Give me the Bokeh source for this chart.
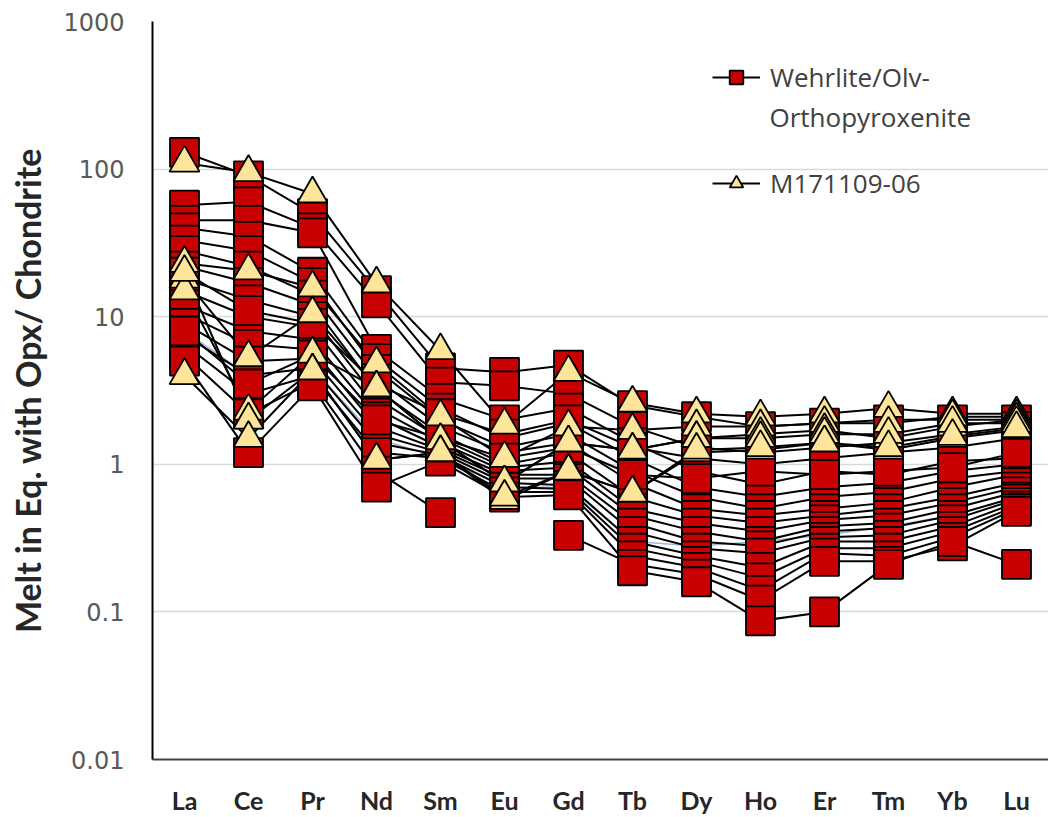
import math
from bokeh.plotting import figure
from bokeh.models import (Range1d, FactorRange, FixedTicker, Legend, LegendItem, Label)
from bokeh.embed import file_html
from bokeh.resources import INLINE

NaN = math.nan

elements = ["La", "Ce", "Pr", "Nd", "Sm", "Eu", "Gd", "Tb", "Dy", "Ho", "Er", "Tm", "Yb", "Lu"]
y_ticks = [0.01, 0.1, 1.0, 10.0, 100.0, 1000.0]
y_tick_labels = ["0.01", "0.1", "1", "10", "100", "1000"]

# Wehrlite / Olv-Orthopyroxenite (red squares)
wehrlite_01 = [130, 90, 50, 15, 4.5, 4.2, 4.7, 2.5, 2.1, 1.8, 1.9, 2.0, 2.0, 2.0]
wehrlite_02 = [57, 60, 40, 12.4, 3.6, 3.4, 3.0, 1.8, 1.3, 1.2, 1.3, 1.4, 1.6, 1.8]
wehrlite_03 = [45, 45, 37, 6.0, 2.8, 2.0, 2.4, 1.4, 0.9, 0.73, 0.9, 0.85, 1.05, 1.1]
wehrlite_04 = [40, 35, 20, 5.2, 2.4, 1.5, 1.9, 1.1, 0.7, 0.6, 0.7, 0.75, 0.9, 1.0]
wehrlite_05 = [33, 28, 17, 4.4, 2.0, 1.3, 1.6, 0.9, 0.6, 0.5, 0.6, 0.65, 0.8, 0.9]
wehrlite_06 = [28, 22, 14, 3.8, 1.8, 1.2, 1.4, 0.75, 0.5, 0.45, 0.5, 0.55, 0.7, 0.85]
wehrlite_07 = [22, 17, 12, 3.2, 1.6, 1.0, 1.2, 0.6, 0.45, 0.4, 0.45, 0.5, 0.6, 0.75]
wehrlite_08 = [18, 13, 10, 2.8, 1.5, 0.95, 1.05, 0.5, 0.4, 0.35, 0.42, 0.45, 0.55, 0.7]
wehrlite_09 = [15, 10, 8.5, 2.4, 1.4, 0.9, 0.95, 0.45, 0.35, 0.3, 0.38, 0.4, 0.5, 0.65]
wehrlite_10 = [12, 8, 7, 2.1, 1.3, 0.85, 0.85, 0.4, 0.3, 0.28, 0.35, 0.37, 0.45, 0.6]
wehrlite_11 = [10.5, 6.5, 6, 1.8, 1.25, 0.8, 0.8, 0.35, 0.27, 0.25, 0.32, 0.33, 0.42, 0.58]
wehrlite_12 = [9, 5, 5.2, 1.6, 1.2, 0.75, 0.72, 0.3, 0.24, 0.2, 0.3, 0.3, 0.38, 0.55]
wehrlite_13 = [7.5, 4, 4.5, 1.4, 1.15, 0.7, 0.68, 0.27, 0.22, 0.17, 0.27, 0.27, 0.35, 0.52]
wehrlite_14 = [6.5, 3, 4, 1.2, 1.1, 0.65, 0.65, 0.24, 0.2, 0.14, 0.25, 0.24, 0.32, 0.5]
wehrlite_15 = [5.5, 2.2, 3.6, 0.9, 0.47, NaN, 0.33, 0.21, 0.18, 0.12, 0.22, 0.22, 0.28, 0.48]
wehrlite_16 = [5, 1.2, 3.4, 0.7, 1.05, 0.6, 0.62, 0.19, 0.16, 0.087, 0.1, 0.21, 0.3, 0.21]
wehrlite_17 = [20, 11, 9, 3.5, 2.2, 1.6, 2.0, 1.3, 1.1, 1.0, 1.1, 1.2, 1.3, 1.5]
wehrlite_18 = [8, 3.5, 5.5, 2.0, 1.5, 1.1, 1.3, 0.85, 0.8, 0.9, 0.85, 0.9, 0.95, 1.2]

# M171109-06 (yellow triangles)
m171109_a = [110, 95, 68, 16.7, 5.9, 1.85, 4.2, 2.6, 2.2, 2.1, 2.2, 2.4, 2.2, 2.2]
m171109_b = [23, 20.5, 15.7, 4.8, 2.1, 1.1, 1.8, 1.7, 1.8, 1.8, 1.9, 1.9, 2.1, 2.1]
m171109_c = [18, 5.3, 10.5, 3.3, 1.45, 0.75, 1.4, 1.25, 1.5, 1.6, 1.7, 1.5, 1.8, 2.0]
m171109_d = [15, 2.3, 5.6, 3.3, 1.45, 0.75, 1.4, 1.25, 1.5, 1.5, 1.6, 1.6, 1.9, 1.9]
m171109_e = [20, 2.0, 4.3, 1.07, 1.2, 0.57, 0.9, 0.64, 1.2, 1.25, 1.4, 1.25, 1.5, 1.7]
m171109_f = [4, 1.5, 4.3, 1.07, 1.2, 0.6, 0.9, 0.64, 1.25, 1.3, 1.4, 1.3, 1.55, 1.75]

# faint light-blue trace partly hidden behind the black lines
blue_trace = [8, 4, 4.5, 1.5, 1.1, 0.7, 0.7, 0.3, 0.28, 0.3, 0.33, 0.38, 0.45, 0.6]

wehrlite_series = [wehrlite_01, wehrlite_02, wehrlite_03, wehrlite_04, wehrlite_05, wehrlite_06,
                   wehrlite_07, wehrlite_08, wehrlite_09, wehrlite_10, wehrlite_11, wehrlite_12,
                   wehrlite_13, wehrlite_14, wehrlite_15, wehrlite_16, wehrlite_17, wehrlite_18]
m171109_series = [m171109_a, m171109_b, m171109_c, m171109_d, m171109_e, m171109_f]

RED = "#C80000"
YELLOW = "#FFE59A"
TICK_COLOR = "#595959"

p = figure(x_range=FactorRange(factors=elements, range_padding=0),
           y_axis_type="log", y_range=Range1d(0.01, 1000),
           frame_width=896, frame_height=738,
           min_border_left=152, min_border_top=21, min_border_right=0, min_border_bottom=48,
           output_backend="svg", toolbar_location=None)
p.outline_line_color = None
p.background_fill_color = "white"

# grid
p.xgrid.visible = False
p.ygrid.ticker = FixedTicker(ticks=y_ticks[1:-1])
p.ygrid.grid_line_color = "#d9d9d9"
p.ygrid.grid_line_width = 1.5

# y axis
p.yaxis.ticker = FixedTicker(ticks=y_ticks)
p.yaxis.major_label_overrides = dict(zip(y_ticks, y_tick_labels))
p.yaxis.axis_line_color = "black"
p.yaxis.axis_line_width = 2
p.yaxis.major_tick_line_color = None
p.yaxis.minor_tick_line_color = None
p.yaxis.major_tick_out = 0
p.yaxis.major_tick_in = 0
p.yaxis.major_label_standoff = 28
p.yaxis.major_label_text_font = "DejaVu Sans"
p.yaxis.major_label_text_font_size = "24px"
p.yaxis.major_label_text_color = TICK_COLOR
p.yaxis.axis_label = "Melt in Eq. with Opx/ Chondrite"
p.yaxis.axis_label_text_font = "Lato"
p.yaxis.axis_label_text_font_style = "bold"
p.yaxis.axis_label_text_font_size = "34px"
p.yaxis.axis_label_text_color = "#262626"
p.yaxis.axis_label_standoff = 12

# x axis
p.xaxis.axis_line_color = "#404040"
p.xaxis.axis_line_width = 2
p.xaxis.major_tick_line_color = None
p.xaxis.major_tick_out = 0
p.xaxis.major_tick_in = 0
p.xaxis.major_label_standoff = 25
p.xaxis.major_label_text_font = "Lato"
p.xaxis.major_label_text_font_style = "bold"
p.xaxis.major_label_text_font_size = "25px"
p.xaxis.major_label_text_color = "#262626"

# lines first
p.line(elements, blue_trace, line_color="#9DB9DC", line_width=1.5)
red_lines, red_marks, tri_lines, tri_marks = [], [], [], []
for s in wehrlite_series:
    red_lines.append(p.line(elements, s, line_color="black", line_width=2))
for s in m171109_series:
    tri_lines.append(p.line(elements, s, line_color="black", line_width=2))
for s in wehrlite_series:
    red_marks.append(p.scatter(elements, s, marker="square", size=29, fill_color=RED,
                               line_color="black", line_width=1.8))
for s in m171109_series:
    tri_marks.append(p.scatter(elements, s, marker="triangle", size=30, fill_color=YELLOW,
                               line_color="black", line_width=1.8))

legend = Legend(items=[
    LegendItem(label="Wehrlite/Olv-", renderers=[red_lines[0], red_marks[0]]),
    LegendItem(label="M171109-06", renderers=[tri_lines[0], tri_marks[0]]),
], location=(560, 558))
legend.glyph_width = 48
legend.glyph_height = 34
legend.label_standoff = 10
legend.spacing = 70
legend.padding = 0
legend.margin = 0
legend.border_line_color = None
legend.background_fill_alpha = 0
legend.label_text_font = "Open Sans"
legend.label_text_font_size = "26px"
legend.label_text_color = "#404040"
p.add_layout(legend)

p.add_layout(Label(x=617, y=643, x_units="screen", y_units="screen", text="Orthopyroxenite",
                   text_font="Open Sans", text_font_size="26px", text_color="#404040",
                   text_baseline="middle"))

open("out.html", "w").write(file_html(p, INLINE))
